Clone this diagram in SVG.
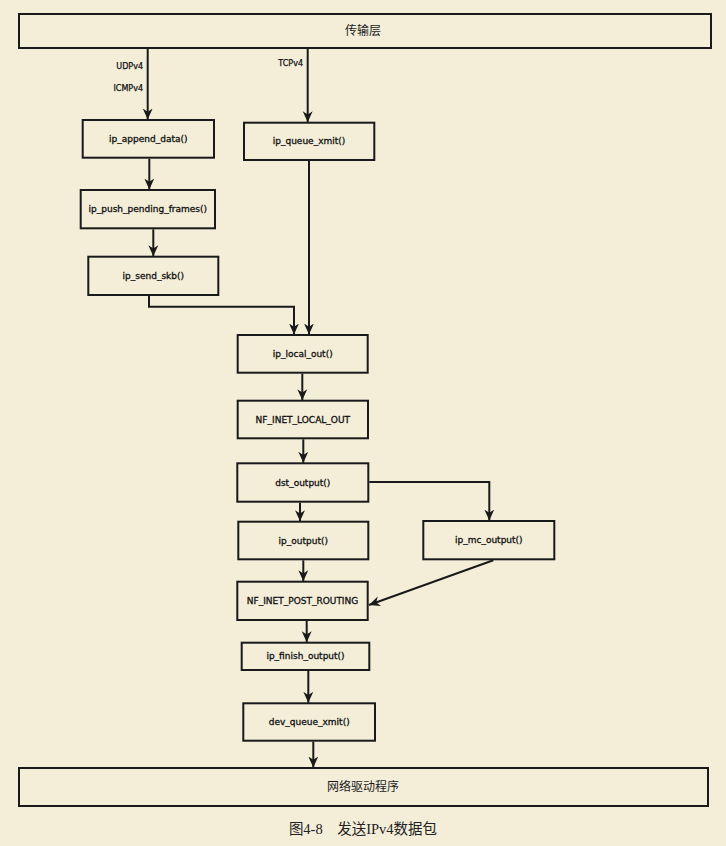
<svg xmlns="http://www.w3.org/2000/svg" width="726" height="846" viewBox="0 0 726 846">
<style>
.bg{fill:#f4eed9}
.box{fill:none;stroke:#1a1a1a;stroke-width:2}
.lbl{font-family:"DejaVu Sans",sans-serif;font-size:9px;fill:#111;stroke:#111;stroke-width:0.3;text-anchor:middle;dominant-baseline:central}
.big{font-family:"Liberation Serif","Noto Sans CJK SC",serif;font-size:12px;fill:#1a1a1a;text-anchor:middle;dominant-baseline:central}
.tag{font-family:"DejaVu Sans",sans-serif;font-size:8px;fill:#111;stroke:#111;stroke-width:0.25;text-anchor:end;dominant-baseline:central}
.cap{font-family:"Liberation Serif","Noto Sans CJK SC",serif;font-size:14.5px;fill:#222;text-anchor:middle;dominant-baseline:central}
.con{fill:none;stroke:#1a1a1a;stroke-width:2;marker-end:url(#ah)}
</style>
<defs>
<marker id="ah" viewBox="0 0 10 10" refX="10" refY="5" markerWidth="11" markerHeight="11" markerUnits="userSpaceOnUse" orient="auto">
<path d="M0,0.5 L10,5 L0,9.5 L3,5 z" fill="#1a1a1a"/>
</marker>
</defs>
<rect class="bg" x="0" y="0" width="726" height="846"/>
<g id="transport"><rect class="box" x="19" y="14" width="692" height="34"/><text class="big" x="363" y="31">传输层</text></g>
<g id="ip_append_data"><rect class="box" x="82.7" y="120" width="131.3" height="37.7"/><text class="lbl" x="148.3" y="139">ip_append_data()</text></g>
<g id="ip_queue_xmit"><rect class="box" x="244" y="122.7" width="130.3" height="37.3"/><text class="lbl" x="309" y="141.3">ip_queue_xmit()</text></g>
<g id="ip_push_pending_frames"><rect class="box" x="80.7" y="190" width="134.3" height="38.3"/><text class="lbl" x="147.8" y="209">ip_push_pending_frames()</text></g>
<g id="ip_send_skb"><rect class="box" x="88.3" y="256.7" width="130" height="38.3"/><text class="lbl" x="153.3" y="275.8">ip_send_skb()</text></g>
<g id="ip_local_out"><rect class="box" x="237.7" y="335" width="130" height="37.7"/><text class="lbl" x="302.7" y="353.8">ip_local_out()</text></g>
<g id="nf_inet_local_out"><rect class="box" x="237.7" y="400.7" width="130.3" height="37.6"/><text class="lbl" x="302.8" y="419.5">NF_INET_LOCAL_OUT</text></g>
<g id="dst_output"><rect class="box" x="237.3" y="463.3" width="131" height="38.4"/><text class="lbl" x="302.8" y="482.5">dst_output()</text></g>
<g id="ip_output"><rect class="box" x="238.3" y="521.7" width="130" height="37.6"/><text class="lbl" x="303.3" y="540.5">ip_output()</text></g>
<g id="ip_mc_output"><rect class="box" x="423.3" y="521" width="131" height="38.3"/><text class="lbl" x="488.8" y="540.2">ip_mc_output()</text></g>
<g id="nf_inet_post_routing"><rect class="box" x="237.3" y="581.7" width="130.4" height="38.3"/><text class="lbl" x="302.5" y="600.8">NF_INET_POST_ROUTING</text></g>
<g id="ip_finish_output"><rect class="box" x="241.7" y="642.7" width="127.6" height="27.3"/><text class="lbl" x="305.5" y="656.3">ip_finish_output()</text></g>
<g id="dev_queue_xmit"><rect class="box" x="243.3" y="703.3" width="131.7" height="37.4"/><text class="lbl" x="309.2" y="722">dev_queue_xmit()</text></g>
<g id="driver"><rect class="box" x="19" y="768" width="689" height="38"/><text class="big" x="363" y="787">网络驱动程序</text></g>
<g id="connectors">
<path class="con" d="M147.7,49 V119.5"/>
<path class="con" d="M307.7,49 V122.2"/>
<path class="con" d="M149.3,158.7 V189.5"/>
<path class="con" d="M153.3,229.3 V256.2"/>
<path class="con" d="M149,296 V306.7 H294 V334.5"/>
<path class="con" d="M309,161 V334.5"/>
<path class="con" d="M302.3,373.7 V400.2"/>
<path class="con" d="M303.3,439.3 V462.8"/>
<path class="con" d="M300,502.7 V521.2"/>
<path class="con" d="M369.3,482 H489.3 V520.5"/>
<path class="con" d="M303.3,560.3 V581.2"/>
<path class="con" d="M493.3,560.3 L369,605"/>
<path class="con" d="M306.7,621 V642.2"/>
<path class="con" d="M308.3,671 V702.8"/>
<path class="con" d="M313.3,741.7 V767.5"/>
<text class="tag" x="143" y="66">UDPv4</text>
<text class="tag" x="143" y="88">ICMPv4</text>
<text class="tag" x="303" y="63">TCPv4</text>
</g>
<text class="cap" x="363" y="829">图4-8　发送IPv4数据包</text>
</svg>
